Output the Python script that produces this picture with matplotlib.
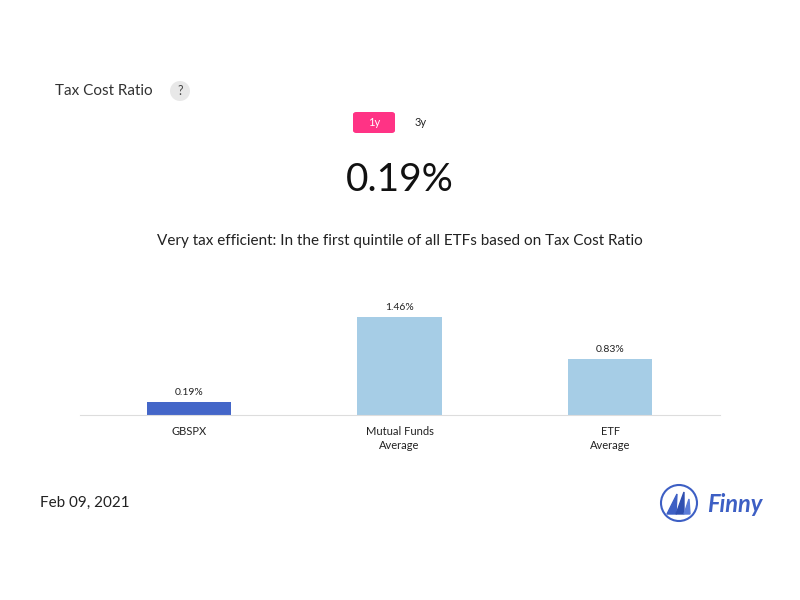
import matplotlib
matplotlib.use("Agg")
import matplotlib.pyplot as plt
from matplotlib.patches import FancyBboxPatch, Circle, Polygon

plt.rcParams["font.family"] = "Lato"

categories = ["GBSPX", "Mutual Funds\nAverage", "ETF\nAverage"]
values = [0.19, 1.46, 0.83]
labels = ["0.19%", "1.46%", "0.83%"]
colors = ["#4466c8", "#a6cde6", "#a6cde6"]

fig = plt.figure(figsize=(8, 6), dpi=100)
fig.patch.set_facecolor("white")

fig.text(55/800, 1-91/600, "Tax Cost Ratio", fontsize=11, color="#333333", va="center")
q = Circle((180/100, (600-91)/100), 0.1, transform=fig.dpi_scale_trans,
           facecolor="#e8e8e8", edgecolor="none")
fig.patches.append(q)
fig.text(180/800, 1-91/600, "?", fontsize=9, color="#444444", ha="center", va="center")

btn = FancyBboxPatch((353/800, 1-133/600), 42/800, 21/600,
                     boxstyle="round,pad=0,rounding_size=0.004",
                     transform=fig.transFigure, facecolor="#ff3385", edgecolor="none")
fig.patches.append(btn)
fig.text(374/800, 1-122/600, "1y", fontsize=8, color="white", ha="center", va="center")
fig.text(421/800, 1-122/600, "3y", fontsize=8, color="#222222", ha="center", va="center")

fig.text(400/800, 1-180/600, "0.19%", fontsize=28, color="#111111", ha="center", va="center")
fig.text(400/800, 1-241/600, "Very tax efficient: In the first quintile of all ETFs based on Tax Cost Ratio",
         fontsize=11, color="#222222", ha="center", va="center")

ax = fig.add_axes([80/800, (600-415)/600, 640/800, 134/600])
x = range(len(values))
ax.bar(x, values, width=0.4, color=colors)
for xi, v, lab in zip(x, values, labels):
    ax.annotate(lab, (xi, v), xytext=(0, 4), textcoords="offset points",
                ha="center", va="bottom", fontsize=7.5, color="#222222")
ax.set_xlim(-0.518, 2.522)
ax.set_ylim(0, 2.0)
ax.set_yticks([])
ax.set_xticks(list(x))
ax.set_xticklabels(categories, fontsize=8, color="#222222", linespacing=1.3)
ax.tick_params(axis="x", length=0, pad=8)
for s in ["top", "right", "left"]:
    ax.spines[s].set_visible(False)
ax.spines["bottom"].set_color("#dddddd")

fig.text(40/800, 1-503/600, "Feb 09, 2021", fontsize=11, color="#222222", va="center")

lx, ly = 679, 503
logo_ax = fig.add_axes([(lx-20)/800, 1-(ly+20)/600, 40/800, 40/600])
logo_ax.set_xlim(-1, 1); logo_ax.set_ylim(-1, 1); logo_ax.axis("off")
logo_ax.add_patch(Circle((0, 0), 0.9, fill=False, edgecolor="#3d5fc4", lw=1.5))
logo_ax.add_patch(Polygon([[-0.6, -0.55], [-0.1, 0.45], [-0.15, -0.55]], color="#3d5fc4"))
logo_ax.add_patch(Polygon([[-0.15, -0.55], [0.25, 0.55], [0.25, -0.55]], color="#2f4fb0"))
logo_ax.add_patch(Polygon([[0.25, -0.55], [0.5, 0.2], [0.55, -0.55]], color="#5a7bd8"))
fig.text(707/800, 1-505/600, "Finny", fontsize=17, color="#3d5fc4", style="italic",
         fontweight="bold", va="center")

fig.savefig("out.png", dpi=100, facecolor="white")
